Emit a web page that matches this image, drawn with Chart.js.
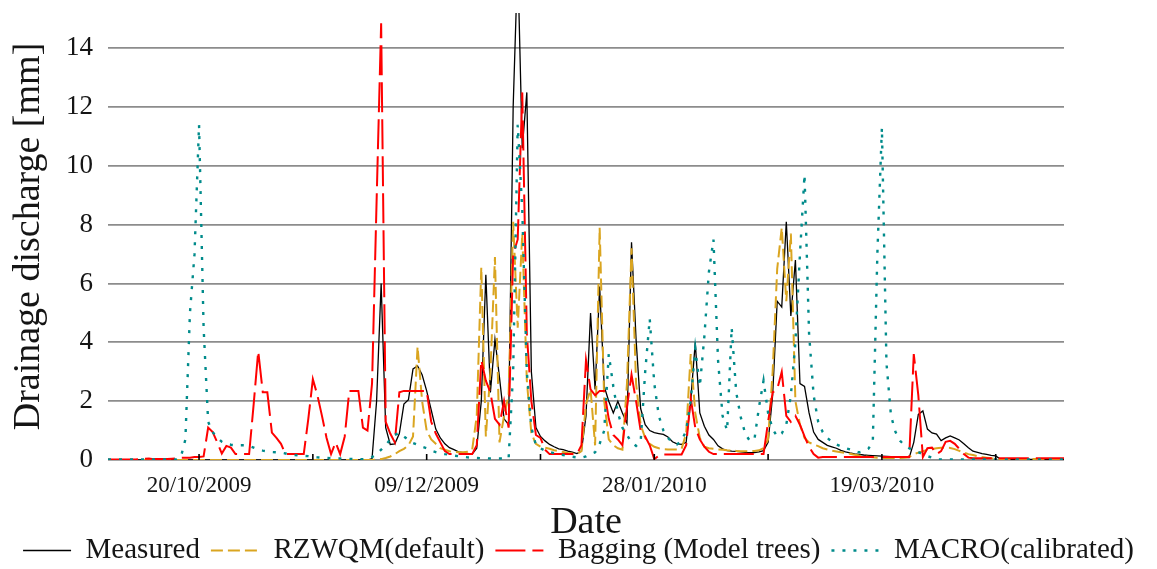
<!DOCTYPE html>
<html>
<head>
<meta charset="utf-8">
<title>Drainage discharge</title>
<script src="https://cdn.jsdelivr.net/npm/chart.js"></script>
<style>
    html, body { margin: 0; padding: 0; background: #ffffff; }
</style>
</head>
<body>
<canvas id="drainagePlot" width="1157" height="569"></canvas>
<script>
// Daily drainage discharge [mm], day 0 = 30/09/2009, day 210 = 28/04/2010
const tickDays = [20, 45, 70, 95, 120, 145, 170, 195];
const labelDays = [20, 70, 120, 170];
const labelTexts = ['20/10/2009', '09/12/2009', '28/01/2010', '19/03/2010'];

const measured = [
    0, 0, 0, 0, 0, 0, 0, 0, 0, 0,
    0, 0, 0, 0, 0, 0, 0, 0, 0, 0,
    0, 0, 0, 0, 0, 0, 0, 0, 0, 0,
    0, 0, 0, 0, 0, 0, 0, 0, 0, 0,
    0, 0, 0, 0, 0, 0, 0, 0, 0, 0,
    0, 0, 0, 0, 0, 0, 0, 0, 0.05, 2.0,
    6.0, 1.1, 0.53, 0.55, 0.9, 1.9, 2.05, 3.1, 3.2, 2.9,
    2.35, 1.7, 1.05, 0.75, 0.55, 0.42, 0.35, 0.28, 0.25, 0.22,
    0.2, 0.4, 2.0, 6.3, 2.3, 4.1, 2.8, 1.4, 1.2, 12.0,
    17.0, 10.6, 12.5, 3.0, 1.1, 0.8, 0.65, 0.53, 0.45, 0.38,
    0.35, 0.3, 0.27, 0.22, 0.3, 1.5, 5.0, 2.4, 5.9, 2.5,
    2.0, 1.6, 2.0, 1.6, 1.25, 7.4, 4.1, 1.75, 1.2, 1.0,
    0.93, 0.9, 0.87, 0.78, 0.62, 0.55, 0.53, 0.6, 2.0, 4.0,
    1.6, 1.15, 0.85, 0.7, 0.48, 0.38, 0.32, 0.3, 0.29, 0.28,
    0.26, 0.25, 0.25, 0.28, 0.32, 0.6, 2.2, 5.4, 5.2, 8.1,
    4.9, 6.8, 2.6, 2.5, 1.6, 0.95, 0.7, 0.6, 0.5, 0.45,
    0.4, 0.33, 0.28, 0.24, 0.21, 0.19, 0.17, 0.16, 0.15, 0.14,
    0.13, 0.12, 0.11, 0.1, 0.1, 0.09, 0.08, 0.6, 1.55, 1.67,
    1.05, 0.92, 0.88, 0.66, 0.75, 0.82, 0.75, 0.68, 0.55, 0.42,
    0.3, 0.26, 0.22, 0.19, 0.16, 0.14, 0.03, 0.02, 0.02, 0.02,
    0.02, 0.02, 0.02, 0.02, 0.02, 0.02, 0.02, 0.02, 0.02, 0.02,
    0.02
];

const rzwqm = [
    0, 0, 0, 0, 0, 0, 0, 0, 0, 0,
    0, 0, 0, 0, 0, 0, 0, 0, 0, 0,
    0, 0, 0, 0, 0, 0, 0, 0, 0, 0,
    0, 0, 0, 0, 0, 0, 0, 0, 0, 0,
    0, 0, 0, 0, 0, 0, 0, 0, 0, 0,
    0, 0, 0, 0, 0, 0, 0, 0, 0, 0.02,
    0.03, 0.07, 0.12, 0.2, 0.3, 0.38, 0.5, 0.8, 3.85, 2.0,
    1.0, 0.7, 0.55, 0.4, 0.35, 0.3, 0.28, 0.26, 0.26, 0.28,
    0.35, 1.5, 6.55, 0.8, 3.0, 6.9, 0.6, 1.5, 2.2, 8.1,
    4.5, 7.7, 2.7, 0.9, 0.55, 0.45, 0.42, 0.38, 0.33, 0.3,
    0.27, 0.24, 0.22, 0.2, 0.3, 1.9, 2.4, 0.5, 7.9, 2.0,
    0.7, 0.5, 0.4, 0.35, 2.6, 7.2, 2.6, 1.2, 0.75, 0.55,
    0.45, 0.4, 0.37, 0.36, 0.36, 0.36, 0.38, 0.9, 3.6, 1.6,
    0.75, 0.45, 0.4, 0.38, 0.36, 0.35, 0.33, 0.32, 0.31, 0.3,
    0.3, 0.3, 0.31, 0.33, 0.4, 0.7, 3.0, 6.5, 7.9, 5.4,
    7.7, 2.0, 1.2, 0.75, 0.6, 0.53, 0.47, 0.4, 0.36, 0.32,
    0.29, 0.26, 0.24, 0.21, 0.18, 0.15, 0.13, 0.11, 0.09, 0.08,
    0.07, 0.07, 0.07, 0.07, 0.07, 0.08, 0.1, 0.2, 0.25, 0.3,
    0.34, 0.37, 0.4, 0.42, 0.42, 0.41, 0.37, 0.31, 0.25, 0.2,
    0.17, 0.13, 0.1, 0.08, 0.06, 0.05, 0.03, 0.03, 0.03, 0.03,
    0.03, 0.03, 0.03, 0.03, 0.03, 0.03, 0.03, 0.03, 0.03, 0.03,
    0.03
];

const bagging = [
    0.02, 0.02, 0.02, 0.02, 0.02, 0.02, 0.02, 0.03, 0.04, 0.05,
    0.03, 0.03, 0.03, 0.03, 0.04, 0.05, 0.08, 0.08, 0.08, 0.1,
    0.1, 0.12, 1.1, 0.95, 0.6, 0.22, 0.48, 0.42, 0.2, 0.2,
    0.2, 0.2, 1.9, 3.7, 2.3, 2.3, 0.93, 0.75, 0.55, 0.2,
    0.2, 0.2, 0.2, 0.2, 1.4, 2.75, 2.2, 1.5, 0.76, 0.2,
    0.6, 0.2, 0.8, 2.35, 2.35, 2.35, 1.1, 1.0, 2.6, 8.8,
    14.85, 1.3, 0.9, 0.6, 2.3, 2.35, 2.35, 2.35, 2.35, 2.35,
    2.35, 1.3, 0.9, 0.6, 0.3, 0.2, 0.2, 0.2, 0.2, 0.2,
    0.2, 0.5, 3.4, 2.7, 2.3, 1.4, 1.2, 2.0, 1.1, 7.0,
    7.5, 12.5, 4.3, 2.0, 0.85, 0.75, 0.35, 0.2, 0.2, 0.2,
    0.2, 0.2, 0.2, 0.2, 0.5, 3.4, 2.4, 2.2, 2.35, 2.35,
    1.4, 0.85, 0.7, 0.5, 1.8, 2.9, 2.0, 1.0, 0.8, 0.5,
    0.03, 0.15, 0.19, 0.19, 0.19, 0.19, 0.19, 0.5, 2.1, 1.1,
    0.7, 0.45, 0.28, 0.2, 0.2, 0.2, 0.2, 0.2, 0.2, 0.2,
    0.2, 0.2, 0.2, 0.2, 0.2, 1.3, 2.3, 2.4, 3.0, 1.5,
    1.3, 1.5, 1.2, 0.8, 0.45, 0.2, 0.08, 0.1, 0.1, 0.1,
    0.1, 0.1, 0.1, 0.1, 0.1, 0.1, 0.1, 0.1, 0.1, 0.1,
    0.1, 0.1, 0.1, 0.1, 0.1, 0.1, 0.1, 3.6, 2.2, 0.1,
    0.4, 0.42, 0.2, 0.3, 0.62, 0.65, 0.55, 0.38, 0.2, 0.08,
    0.06, 0.06, 0.06, 0.06, 0.06, 0.06, 0.06, 0.06, 0.06, 0.06,
    0.06, 0.06, 0.06, 0.06, 0.06, 0.06, 0.06, 0.06, 0.06, 0.06,
    0.06
];

const macro = [
    0.02, 0.02, 0.02, 0.02, 0.02, 0.02, 0.02, 0.02, 0.02, 0.02,
    0.02, 0.02, 0.02, 0.02, 0.02, 0.02, 0.1, 0.7, 5.0, 7.0,
    11.4, 4.5, 1.3, 0.95, 0.75, 0.62, 0.55, 0.52, 0.5, 0.5,
    0.5, 0.48, 0.42, 0.36, 0.32, 0.29, 0.27, 0.26, 0.25, 0.22,
    0.19, 0.17, 0.15, 0.14, 0.13, 0.11, 0.09, 0.08, 0.07, 0.06,
    0.05, 0.05, 0.04, 0.04, 0.03, 0.03, 0.03, 0.04, 0.1, 0.2,
    0.35, 0.5, 0.7, 0.85, 0.92, 0.8, 0.68, 0.58, 0.52, 0.45,
    0.4, 0.32, 0.27, 0.23, 0.2, 0.18, 0.15, 0.13, 0.11, 0.09,
    0.08, 0.07, 0.06, 0.06, 0.05, 0.05, 0.05, 0.05, 0.05, 3.0,
    11.4, 8.5, 3.0, 1.1, 0.5, 0.4, 0.32, 0.27, 0.23, 0.2,
    0.17, 0.14, 0.11, 0.09, 0.08, 0.12, 0.2, 0.26, 0.55, 1.0,
    3.6, 2.5, 1.6, 1.1, 0.85, 0.6, 0.48, 0.6, 3.0, 4.8,
    2.6, 1.5, 1.0, 0.75, 0.6, 0.53, 0.65, 1.0, 2.0, 3.8,
    2.5, 4.2, 6.4, 7.5, 3.4, 1.5, 1.0, 4.5, 2.3, 1.45,
    0.88, 0.65, 0.7, 1.8, 2.7, 1.6, 1.05, 0.8, 0.9, 1.2,
    2.2, 4.0, 7.0, 9.7, 4.3, 2.2, 1.3, 0.95, 0.75, 0.62,
    0.53, 0.46, 0.4, 0.36, 0.3, 0.26, 0.3, 0.38, 0.6, 7.0,
    11.3, 3.3, 1.5, 0.95, 0.65, 0.5, 0.4, 0.32, 0.27, 0.2,
    0.13, 0.08, 0.02, 0.02, 0.02, 0.02, 0.02, 0.02, 0.02, 0.02,
    0.02, 0.02, 0.02, 0.02, 0.02, 0.02, 0.02, 0.02, 0.02, 0.02,
    0.02, 0.02, 0.02, 0.02, 0.02, 0.02, 0.02, 0.02, 0.02, 0.02,
    0.02
];

const serif = "'Liberation Serif', 'Times New Roman', serif";
const textColor = '#151515';

function toPoints(values) {
    return values.map((v, i) => ({ x: i, y: v }));
}

function dateLabel(value) {
    const k = labelDays.indexOf(value);
    return k >= 0 ? labelTexts[k] : '';
}

// small tick marks pointing up from the zero line
const innerTicks = {
    id: 'innerTicks',
    afterDatasetsDraw(chart) {
        const { ctx, chartArea } = chart;
        const xScale = chart.scales.x;
        ctx.save();
        ctx.strokeStyle = '#000000';
        ctx.lineWidth = 1.6;
        tickDays.forEach(function (d) {
            const px = xScale.getPixelForValue(d);
            ctx.beginPath();
            ctx.moveTo(px, chartArea.bottom);
            ctx.lineTo(px, chartArea.bottom - 6);
            ctx.stroke();
        });
        ctx.restore();
    }
};

const ctx = document.getElementById('drainagePlot').getContext('2d');
new Chart(ctx, {
    type: 'line',
    data: {
        datasets: [
            {
                label: 'Measured',
                data: toPoints(measured),
                borderColor: '#000000',
                backgroundColor: '#000000',
                borderWidth: 1.3,
                pointRadius: 0,
                order: 4,
                fill: false
            },
            {
                label: 'RZWQM(default)',
                data: toPoints(rzwqm),
                borderColor: '#daa520',
                backgroundColor: '#daa520',
                borderWidth: 2,
                borderDash: [12, 5],
                pointRadius: 0,
                order: 3,
                fill: false
            },
            {
                label: 'Bagging (Model trees)',
                data: toPoints(bagging),
                borderColor: '#ff0000',
                backgroundColor: '#ff0000',
                borderWidth: 2,
                borderDash: [30, 7],
                pointRadius: 0,
                order: 2,
                fill: false
            },
            {
                label: 'MACRO(calibrated)',
                data: toPoints(macro),
                borderColor: '#008b8b',
                backgroundColor: '#008b8b',
                borderWidth: 2.4,
                borderDash: [3, 8],
                pointRadius: 0,
                order: 1,
                fill: false
            }
        ]
    },
    options: {
        responsive: false,
        animation: false,
        layout: {
            padding: { left: 0, right: 0, top: 13, bottom: -6 }
        },
        plugins: {
            tooltip: { enabled: false },
            legend: {
                position: 'bottom',
                labels: {
                    usePointStyle: true,
                    pointStyleWidth: 48,
                    padding: 11,
                    color: textColor,
                    font: { family: serif, size: 29 },
                    generateLabels: function (chart) {
                        return chart.data.datasets.map(function (ds, i) {
                            return {
                                text: ds.label,
                                strokeStyle: ds.borderColor,
                                fillStyle: ds.borderColor,
                                lineWidth: ds.borderWidth,
                                lineDash: ds.borderDash || [],
                                pointStyle: 'line',
                                fontColor: textColor,
                                hidden: false,
                                datasetIndex: i
                            };
                        });
                    }
                }
            }
        },
        scales: {
            x: {
                type: 'linear',
                position: 'bottom',
                min: 0,
                max: 210,
                afterBuildTicks: function (scale) {
                    scale.ticks = tickDays.map(function (d) { return { value: d }; });
                },
                afterFit: function (scale) {
                    scale.height = 65;
                    scale.paddingLeft = 0;
                    scale.paddingRight = 0;
                },
                ticks: {
                    autoSkip: false,
                    maxRotation: 0,
                    padding: 12,
                    color: textColor,
                    font: { family: serif, size: 23 },
                    callback: dateLabel
                },
                grid: { display: false, drawTicks: false },
                border: { display: false },
                title: {
                    display: true,
                    text: 'Date',
                    color: textColor,
                    font: { family: serif, size: 38, lineHeight: 1 },
                    padding: { top: 0, bottom: -17 }
                }
            },
            y: {
                min: 0,
                max: 15.2,
                afterFit: function (scale) {
                    scale.width = 108;
                    scale.paddingTop = 0;
                    scale.paddingBottom = 0;
                },
                ticks: {
                    stepSize: 2,
                    includeBounds: false,
                    padding: 15,
                    color: textColor,
                    font: { family: serif, size: 27 }
                },
                grid: { color: '#8c8c8c', lineWidth: 1.8, drawTicks: false },
                border: { display: false },
                title: {
                    display: true,
                    text: 'Drainage discharge [mm]',
                    color: textColor,
                    font: { family: serif, size: 38 },
                    padding: { top: 6, bottom: 0 }
                }
            },
            rightGap: {
                type: 'linear',
                position: 'right',
                display: true,
                afterFit: function (scale) {
                    scale.width = 93;
                    scale.paddingTop = 0;
                    scale.paddingBottom = 0;
                },
                ticks: { display: false },
                grid: { display: false, drawTicks: false },
                border: { display: false }
            }
        }
    },
    plugins: [innerTicks]
});
</script>
</body>
</html>
